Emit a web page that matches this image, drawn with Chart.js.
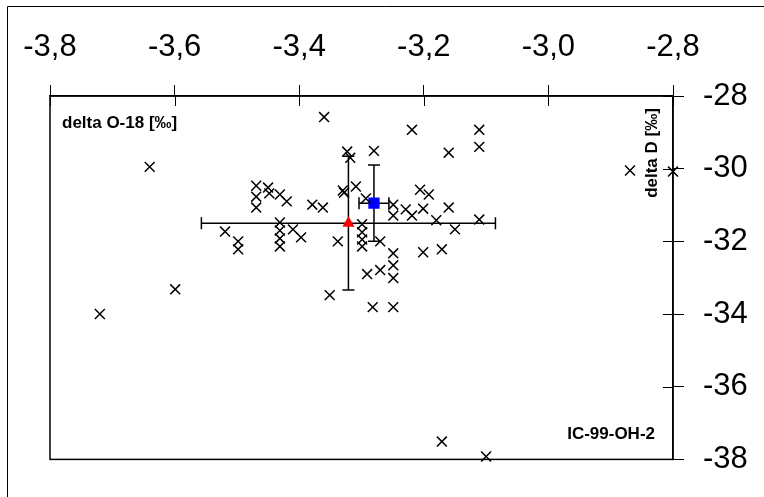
<!DOCTYPE html>
<html><head><meta charset="utf-8">
<script src="https://cdn.jsdelivr.net/npm/chart.js@4.4.1/dist/chart.umd.min.js"></script>
<style>html,body{margin:0;padding:0;background:#fff;overflow:hidden}canvas{display:block}</style>
</head><body>
<canvas id="c" width="764" height="497"></canvas>
<script>
// Sample measurements: delta O-18 [‰] and delta D [‰]
const o18Values = [
  -3.640, -3.599, -3.720, -3.469, -3.469, -3.469, -3.450, -3.448, -3.431, -3.420,
  -3.379, -3.362, -3.519, -3.498, -3.498, -3.431, -3.431, -3.431, -3.431, -3.410,
  -3.397, -3.360, -3.219, -3.111, -3.111, -3.160, -3.323, -3.318, -3.280, -3.309,
  -3.330, -3.328, -3.293, -3.206, -3.192, -3.249, -3.249, -3.229, -3.219, -3.201,
  -3.160, -3.180, -3.150, -3.111, -3.338, -3.299, -3.299, -3.299, -3.299, -3.270,
  -3.249, -3.249, -3.249, -3.270, -3.291, -3.351, -3.282, -3.249, -3.201, -3.171,
  -2.869, -2.800, -3.171, -3.100
];
const dDValues = [
  -29.95, -33.32, -34.00, -30.47, -30.77, -31.07, -30.52, -30.68, -30.71, -30.90,
  -30.99, -31.07, -31.73, -32.00, -32.22, -31.48, -31.70, -31.92, -32.14, -31.67,
  -31.89, -28.58, -28.93, -28.93, -29.40, -29.56, -29.53, -29.70, -29.51, -30.49,
  -30.60, -30.66, -30.82, -30.58, -30.71, -30.99, -31.29, -31.12, -31.29, -31.10,
  -31.07, -31.42, -31.67, -31.40, -32.00, -31.53, -31.75, -31.95, -32.14, -32.00,
  -32.33, -32.66, -33.01, -32.79, -32.90, -33.48, -33.81, -33.81, -32.30, -32.22,
  -30.05, -30.08, -37.51, -37.92
];
// Mean values with error bars: [blue square, red triangle]
const meanNames = ['mean A', 'mean B'];
const meanO18 = [-3.280, -3.321];
const meanD = [-30.95, -31.50];
const errO18 = [0.024, 0.236];
const errD = [1.05, 1.84];
const xTickLabelFmt = v => v.toFixed(1).replace('.', ',');
const yTickLabelFmt = v => String(Math.round(v));

const FONT = '"Liberation Sans", Arial, sans-serif';

const pts = o18Values.map((v, i) => ({x: v, y: dDValues[i]}));

const frame = {
  id: 'frame',
  beforeDraw(chart) {
    const ctx = chart.ctx;
    ctx.save();
    ctx.fillStyle = '#fff';
    ctx.fillRect(0, 0, chart.width, chart.height);
    ctx.strokeStyle = '#000';
    ctx.lineWidth = 1;
    ctx.beginPath();
    ctx.moveTo(7.5, chart.height);
    ctx.lineTo(7.5, 6.5);
    ctx.lineTo(chart.width, 6.5);
    ctx.stroke();
    ctx.restore();
  },
  beforeDatasetsDraw(chart) {
    const {ctx, scales: {x, y}} = chart;
    ctx.save();
    ctx.strokeStyle = '#000';
    ctx.lineWidth = 1.5;
    for (let i = 0; i < meanO18.length; i++) {
      const px = x.getPixelForValue(meanO18[i]);
      const py = y.getPixelForValue(meanD[i]);
      const xl = x.getPixelForValue(meanO18[i] - errO18[i]);
      const xr = x.getPixelForValue(meanO18[i] + errO18[i]);
      const yt = y.getPixelForValue(meanD[i] + errD[i]);
      const yb = y.getPixelForValue(meanD[i] - errD[i]);
      const c = 6;
      ctx.beginPath();
      ctx.moveTo(xl, py); ctx.lineTo(xr, py);
      ctx.moveTo(xl, py - c); ctx.lineTo(xl, py + c);
      ctx.moveTo(xr, py - c); ctx.lineTo(xr, py + c);
      ctx.moveTo(px, yt); ctx.lineTo(px, yb);
      ctx.moveTo(px - c, yt); ctx.lineTo(px + c, yt);
      ctx.moveTo(px - c, yb); ctx.lineTo(px + c, yb);
      ctx.stroke();
    }
    ctx.restore();
  },
  afterDraw(chart) {
    const {ctx, chartArea: a, scales: {x, y}} = chart;
    ctx.save();
    ctx.strokeStyle = '#000';
    ctx.lineWidth = 1.5;
    ctx.strokeRect(a.left, a.top, a.right - a.left, a.bottom - a.top);
    ctx.lineWidth = 1;
    ctx.beginPath();
    x.ticks.forEach(t => {
      const p = Math.round(x.getPixelForValue(t.value)) + 0.5;
      ctx.moveTo(p, a.top); ctx.lineTo(p, a.top + 10);
    });
    y.ticks.forEach(t => {
      const p = Math.round(y.getPixelForValue(t.value)) + 0.5;
      ctx.moveTo(a.right - 10, p); ctx.lineTo(a.right, p);
    });
    ctx.stroke();
    // text labels
    ctx.fillStyle = '#000';
    ctx.font = 'bold 17px ' + FONT;
    ctx.textBaseline = 'middle';
    ctx.textAlign = 'left';
    ctx.fillText('delta O-18 [‰]', a.left + 12, a.top + 27);
    ctx.textAlign = 'right';
    ctx.fillText('IC-99-OH-2', a.right - 18, a.bottom - 25);
    ctx.save();
    ctx.translate(a.right - 21, a.top + 57);
    ctx.rotate(-Math.PI / 2);
    ctx.textAlign = 'center';
    ctx.fillText('delta D [‰]', 0, 0);
    ctx.restore();
    ctx.restore();
  }
};

new Chart(document.getElementById('c'), {
  type: 'scatter',
  data: {
    datasets: [
      {
        label: 'samples',
        data: pts,
        pointStyle: 'crossRot',
        pointRadius: 7,
        pointBorderWidth: 1.5,
        borderColor: '#000',
        backgroundColor: '#000',
        clip: false
      },
      {
        label: meanNames[1],
        data: [{x: meanO18[1], y: meanD[1]}],
        pointStyle: 'triangle',
        pointRadius: 7,
        pointBorderWidth: 0,
        borderColor: '#ff0000',
        backgroundColor: '#ff0000'
      },
      {
        label: meanNames[0],
        data: [{x: meanO18[0], y: meanD[0]}],
        pointStyle: 'rect',
        pointRadius: 8,
        pointBorderWidth: 0,
        borderColor: '#0000ff',
        backgroundColor: '#0000ff'
      }
    ]
  },
  options: {
    responsive: false,
    animation: false,
    events: [],
    layout: {padding: {left: 50, right: 0, top: 0, bottom: 36}},
    plugins: {legend: {display: false}, tooltip: {enabled: false}},
    scales: {
      x: {
        type: 'linear',
        position: 'top',
        min: -3.8, max: -2.8,
        afterFit(s) { s.height = 96; },
        grid: {drawOnChartArea: false, drawTicks: true, tickLength: 11, color: '#000', lineWidth: 1},
        border: {display: true, color: '#000', width: 1.5},
        ticks: {stepSize: 0.2, color: '#000', padding: 19, maxRotation: 0,
          font: {family: FONT, size: 31}, callback: v => xTickLabelFmt(v)}
      },
      y: {
        type: 'linear',
        position: 'right',
        min: -38, max: -28,
        afterFit(s) { s.width = 91; },
        grid: {drawOnChartArea: false, drawTicks: true, tickLength: 11, color: '#000', lineWidth: 1},
        border: {display: true, color: '#000', width: 1.5},
        ticks: {stepSize: 2, color: '#000', padding: 19,
          font: {family: FONT, size: 31}, callback: v => yTickLabelFmt(v)}
      }
    }
  },
  plugins: [frame]
});
</script>
</body></html>
